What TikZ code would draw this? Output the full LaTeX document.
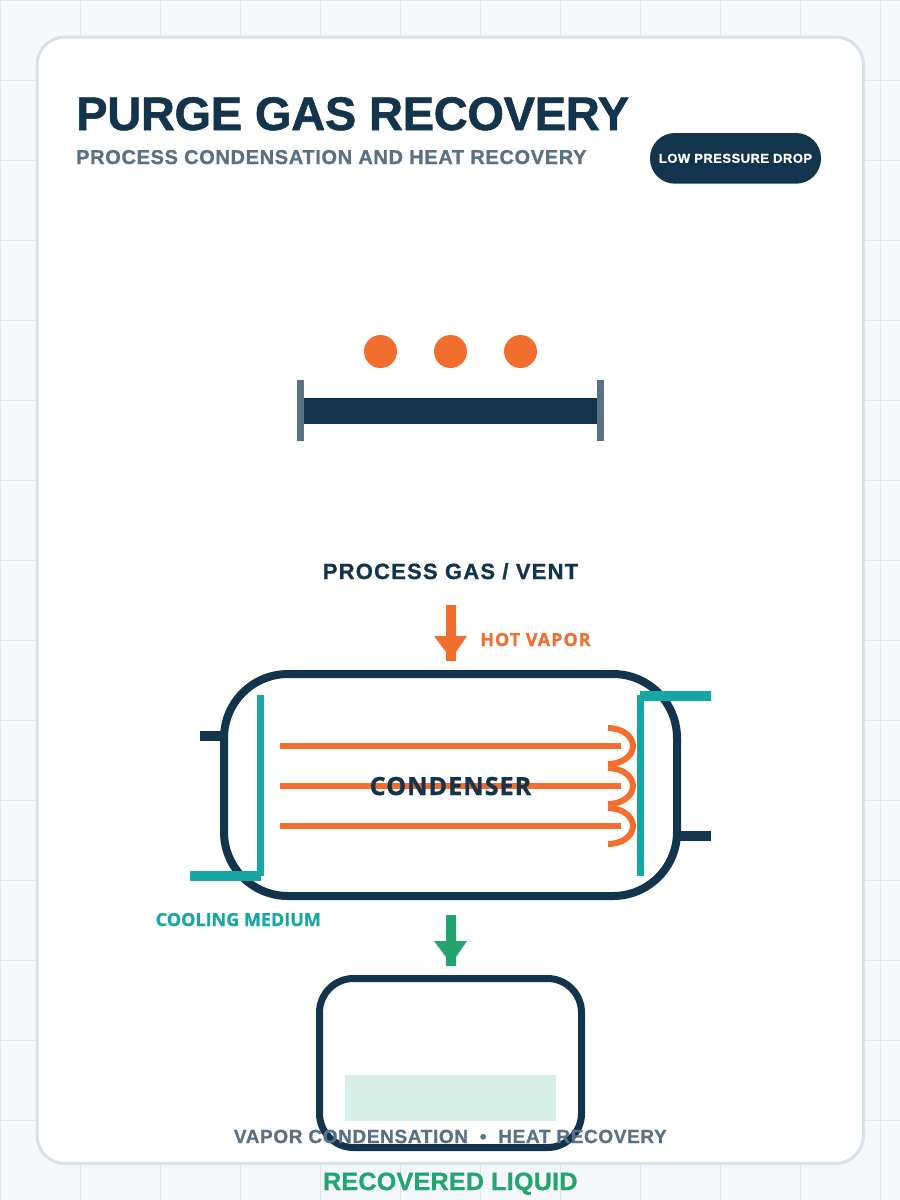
\documentclass[tikz,border=0pt]{standalone}
\usepackage{fontspec}
\setmainfont{Liberation Sans}[BoldFont={* Bold}]
% heavier display cuts, each with the tracking its line needs
\newfontfamily\titleface{Liberation Sans}[UprightFont={* Bold},FakeBold=1.2,LetterSpace=-0.6]
\newfontfamily\subface{Liberation Sans}[UprightFont={* Bold},FakeBold=1,LetterSpace=3.3]
\newfontfamily\captionface{Liberation Sans}[UprightFont={* Bold},FakeBold=1,LetterSpace=5.5]
\newfontfamily\badgeface{Liberation Sans}[UprightFont={* Bold},FakeBold=1,LetterSpace=3.6]
\newfontfamily\liquidface{Liberation Sans}[UprightFont={* Bold},FakeBold=1,LetterSpace=1.25]
\newfontfamily\hotface{Open Sans}[UprightFont={* Bold},FakeBold=0.7,LetterSpace=5.5]
\newfontfamily\coolface{Open Sans}[UprightFont={* Bold},FakeBold=0.7,LetterSpace=0]
\newfontfamily\vesselface{Open Sans}[UprightFont={* Bold},FakeBold=1.2,LetterSpace=4.4]
\definecolor{navy}{HTML}{12344D}
\definecolor{slate}{HTML}{5A7184}
\definecolor{ember}{HTML}{F26E2E}
\definecolor{teal}{HTML}{17A6A6}
\definecolor{leaf}{HTML}{24A56F}
\definecolor{pool}{HTML}{D6F0E7}
\definecolor{paper}{HTML}{F4F8FB}
\definecolor{gridline}{HTML}{D9E7EE}
\definecolor{cardedge}{HTML}{D6E1E8}
\tikzset{
  heading/.style={inner sep=0pt,anchor=base west,font=\titleface\fontsize{47}{47}\selectfont,text=navy},
  subheading/.style={inner sep=0pt,anchor=base west,font=\subface\fontsize{20}{20}\selectfont,text=slate},
  caption/.style={inner sep=0pt,anchor=base,font=\captionface\fontsize{22}{22}\selectfont,text=navy},
  tag/.style={inner sep=0pt,anchor=base west},
  pipe/.style={line width=#1,line cap=butt},
  returnbend/.style={draw=ember,line width=6pt},
  tube/.style={draw=ember,line width=6pt}
}
\begin{document}
\begin{tikzpicture}[x=1pt,y=-1pt]
\useasboundingbox (0,0) rectangle (900,1200);
\fill[paper] (0,0) rectangle (900,1200);
% backdrop grid
\foreach \gx in {0,80,...,880} \draw[gridline,line width=1pt] (\gx+.5,0) -- (\gx+.5,1200);
\foreach \gy in {0,80,...,1200} \draw[gridline,line width=1pt] (0,\gy+.5) -- (900,\gy+.5);
% card
\draw[cardedge,fill=white,line width=3pt,rounded corners=28pt] (37,37) rectangle (863.5,1163.5);
% header
\node[heading] (title) at (76,130) {PURGE GAS RECOVERY};
\node[subheading] (subtitle) at (76,164) {PROCESS CONDENSATION AND HEAT RECOVERY};
\fill[navy,rounded corners=25pt] (650,133) rectangle (821,183.7);
\node[inner sep=0pt,text=white,font=\badgeface\fontsize{13}{13}\selectfont] (badge) at (735.5,158.3) {LOW PRESSURE DROP};
% heated pipe section
\foreach \cx in {380.5,450.5,520.5} \fill[ember] (\cx,351.5) circle[radius=16.5];
\fill[navy] (304,398) rectangle (597,424);
\fill[slate] (297,380) rectangle (304,441);
\fill[slate] (597,380) rectangle (604,441);
% process gas inlet
\node[caption] (gas) at (450.5,579) {PROCESS GAS / VENT};
\fill[ember] (446,605) -- (456,605) -- (456,636) -- (467,636) -- (456,652) -- (456,661) -- (446,661) -- (446,652) -- (434,636) -- (446,636) -- cycle;
\node[tag,text=ember,font=\hotface\fontsize{18}{18}\selectfont] (hot) at (480,646) {HOT VAPOR};
% condenser shell
\draw[navy,line width=8pt,rounded corners=64pt] (224,674) rectangle (677,896);
\draw[pipe=10pt,navy] (200,736) -- (228,736);
\draw[pipe=10pt,navy] (677,836) -- (711,836);
% tube bundle
\foreach \ty in {746,786,826} \draw[tube] (280,\ty) -- (621,\ty);
\foreach \ty in {746,786,826}
  \draw[returnbend] (608,\ty-18) .. controls (621.8,\ty-18) and (633,\ty-10) .. (633,\ty) .. controls (633,\ty+10) and (621.8,\ty+18) .. (608,\ty+18);
% coolant headers
\draw[pipe=7pt,teal] (260.5,695) -- (260.5,876);
\draw[pipe=10pt,teal] (190,876) -- (261,876);
\draw[pipe=7pt,teal] (640.5,695) -- (640.5,876);
\draw[pipe=10pt,teal] (640,696) -- (711,696);
\node[inner sep=0pt,anchor=base,font=\vesselface\fontsize{25}{25}\selectfont,text=navy] (cond) at (450.5,795) {CONDENSER};
\node[tag,text=teal,font=\coolface\fontsize{18}{18}\selectfont] (cool) at (155.5,926) {COOLING MEDIUM};
% condensate drop
\fill[leaf] (446,915) -- (456,915) -- (456,941) -- (467,941) -- (456,957) -- (456,966) -- (446,966) -- (446,957) -- (434,941) -- (446,941) -- cycle;
% receiver
\draw[navy,line width=7pt,rounded corners=34pt] (319.5,978.5) rectangle (581.5,1147.5);
\fill[pool] (345,1075) rectangle (556,1121);
\node[inner sep=0pt,anchor=base,font=\subface\fontsize{19}{19}\selectfont,text=slate] (foot) at (450.3,1143) {VAPOR CONDENSATION\ \ •\ \ HEAT RECOVERY};
\node[inner sep=0pt,anchor=base,font=\liquidface\fontsize{25}{25}\selectfont,text=leaf] (liquid) at (450.3,1190) {RECOVERED LIQUID};
\end{tikzpicture}
\end{document}
